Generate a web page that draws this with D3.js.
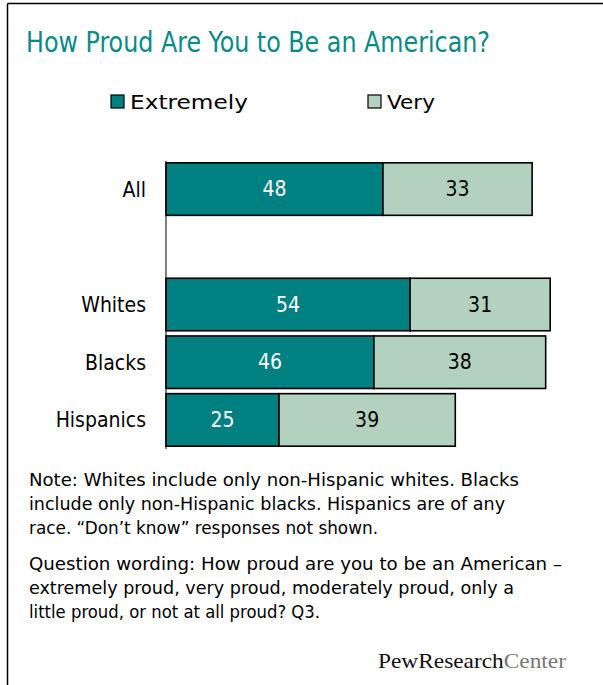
<!DOCTYPE html>
<html>
<head>
<meta charset="utf-8">
<script src="https://cdn.jsdelivr.net/npm/d3@7"></script>
<style>
  html, body { margin: 0; padding: 0; background: #fff; }
  svg { display: block; }
</style>
</head>
<body>
<svg id="chart" width="603" height="685"></svg>
<script>
// Survey groups (the empty slot leaves a gap between "All" and the subgroups)
const categories = ["All", "", "Whites", "Blacks", "Hispanics"];
const groups = ["All", "Whites", "Blacks", "Hispanics"];
const extremely = [48, 54, 46, 25];
const very = [33, 31, 38, 39];
const seriesNames = ["Extremely", "Very"];
const seriesColors = ["#008080", "#b3d1bf"];
const noteLines = [
  "Note: Whites include only non-Hispanic whites. Blacks",
  "include only non-Hispanic blacks. Hispanics are of any",
  "race. \u201cDon\u2019t know\u201d responses not shown."
];
const wordingLines = [
  "Question wording: How proud are you to be an American \u2013",
  "extremely proud, very proud, moderately proud, only a",
  "little proud, or not at all proud? Q3."
];

const svg = d3.select("#chart");
const font = "'DejaVu Sans Condensed', 'DejaVu Sans', Verdana, sans-serif";
const wideFont = "'DejaVu Sans', Verdana, sans-serif";

// Frame (left and top edges)
svg.append("line").attr("x1", 7.5).attr("x2", 7.5).attr("y1", 3.5).attr("y2", 685)
  .attr("stroke", "#000").attr("stroke-width", 1.5);
svg.append("line").attr("x1", 7.5).attr("x2", 603).attr("y1", 3.5).attr("y2", 3.5)
  .attr("stroke", "#000").attr("stroke-width", 1.5);

// Title
svg.append("text").attr("x", 26).attr("y", 52)
  .attr("font-family", font).attr("font-size", 28).attr("fill", "#0a8a87")
  .attr("textLength", 464).attr("lengthAdjust", "spacingAndGlyphs")
  .text("How Proud Are You to Be an American?");

// Legend
const legendX = [111, 368];
const legendW = [118, 48];
seriesNames.forEach((name, i) => {
  const g = svg.append("g");
  g.append("rect").attr("x", legendX[i]).attr("y", 95).attr("width", 13).attr("height", 13)
    .attr("fill", seriesColors[i]).attr("stroke", "#000").attr("stroke-width", 1.2);
  g.append("text").attr("x", legendX[i] + 19).attr("y", 109)
    .attr("font-family", wideFont).attr("font-size", 19).attr("fill", "#000")
    .attr("textLength", legendW[i]).attr("lengthAdjust", "spacingAndGlyphs")
    .text(name);
});

// Scales
const x = d3.scaleLinear().domain([0, 100]).range([166, 618]);
const y = d3.scaleBand().domain(categories).range([160.5, 448.5]).paddingInner(0.09).paddingOuter(0.04);

// Stacked data
const rows = groups.map((g, i) => ({ group: g, values: [extremely[i], very[i]] }));

const barG = svg.append("g");
rows.forEach(r => {
  let acc = 0;
  r.values.forEach((v, j) => {
    const x0 = x(acc), x1 = x(acc + v);
    barG.append("rect")
      .attr("x", x0).attr("y", y(r.group))
      .attr("width", x1 - x0).attr("height", y.bandwidth())
      .attr("fill", seriesColors[j]).attr("stroke", "#000").attr("stroke-width", 1.6);
    barG.append("text")
      .attr("x", (x0 + x1) / 2).attr("y", y(r.group) + y.bandwidth() / 2 + 7)
      .attr("text-anchor", "middle")
      .attr("font-family", font).attr("font-size", 21)
      .attr("fill", j === 0 ? "#fff" : "#000")
      .text(v);
    acc += v;
  });
});

// Category axis
const axis = d3.axisLeft(y).tickSize(0).tickPadding(20).tickFormat(d => d);
const axisG = svg.append("g").attr("transform", `translate(${x(0)},0)`).call(axis);
axisG.select(".domain").attr("stroke", "#000").attr("stroke-width", 1)
  .attr("d", `M0,${161}V${449}`);
axisG.selectAll("text")
  .attr("font-family", font).attr("font-size", 21).attr("fill", "#000")
  .attr("dy", "0.36em");

// Notes
const notesG = svg.append("g").attr("font-family", font).attr("font-size", 18).attr("fill", "#000");
const noteW = [490, 476, 349];
noteLines.forEach((t, i) => {
  notesG.append("text").attr("x", 29).attr("y", 486 + i * 24)
    .attr("textLength", noteW[i]).attr("lengthAdjust", "spacingAndGlyphs").text(t);
});
const wordW = [533, 485, 291];
wordingLines.forEach((t, i) => {
  notesG.append("text").attr("x", 29).attr("y", 570 + i * 24)
    .attr("textLength", wordW[i]).attr("lengthAdjust", "spacingAndGlyphs").text(t);
});

// Source
const src = svg.append("text").attr("x", 378).attr("y", 668)
  .attr("font-family", "'Liberation Serif', 'DejaVu Serif', serif").attr("font-size", 21)
  .attr("textLength", 188).attr("lengthAdjust", "spacingAndGlyphs");
src.append("tspan").attr("fill", "#111").text("PewResearch");
src.append("tspan").attr("fill", "#777").text("Center");
</script>
</body>
</html>
